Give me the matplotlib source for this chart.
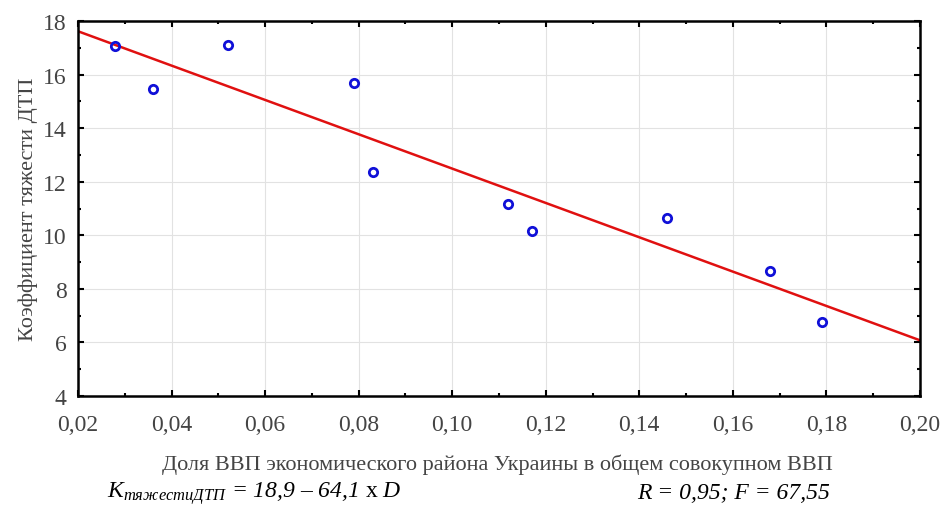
import matplotlib.pyplot as plt
from matplotlib.ticker import MultipleLocator, FuncFormatter
import numpy as np

plt.rcParams['font.family'] = ['Liberation Serif', 'DejaVu Serif']
plt.rcParams['mathtext.fontset'] = 'custom'
plt.rcParams['mathtext.rm'] = 'Liberation Serif'
plt.rcParams['mathtext.it'] = 'Liberation Serif:italic'

# доля ВВП района и коэффициент тяжести ДТП
gdp_share = [0.028, 0.036, 0.052, 0.079, 0.083, 0.112, 0.117, 0.146, 0.168, 0.179]
severity = [17.07, 15.45, 17.12, 15.67, 12.35, 11.17, 10.15, 10.65, 8.68, 6.77]
intercept, slope = 18.9, -64.1

fig = plt.figure(figsize=(9.45, 5.06), dpi=100)
ax = fig.add_axes([0.0825, 0.2154, 0.891, 0.7411])

ax.plot(gdp_share, severity, 'o', ms=6, mfc='none', mec='#1010d8', mew=2, zorder=3)
xs = np.array([0.02, 0.20])
ax.plot(xs, intercept + slope * xs, color='#e01010', lw=1.8, zorder=2)

ax.set_xlim(0.02, 0.20)
ax.set_ylim(4, 18)
ax.xaxis.set_major_locator(MultipleLocator(0.02))
ax.xaxis.set_minor_locator(MultipleLocator(0.01))
ax.yaxis.set_major_locator(MultipleLocator(2))
ax.yaxis.set_minor_locator(MultipleLocator(1))
ax.xaxis.set_major_formatter(FuncFormatter(lambda v, p: f'{v:.2f}'.replace('.', ',')))
ax.yaxis.set_major_formatter(FuncFormatter(lambda v, p: f'{v:.0f}'))
ax.tick_params(which='both', direction='in', top=True, right=True, color='black',
               labelsize=17, labelcolor='#444444')
ax.tick_params(which='major', length=4, width=1.5)
ax.tick_params(which='minor', length=2, width=1.5)
ax.tick_params(axis='x', pad=13)
ax.tick_params(axis='y', pad=8)
for s in ax.spines.values():
    s.set_linewidth(1.8)
ax.grid(True, which='major', color='#e2e2e2', lw=0.8)
ax.set_axisbelow(True)

ax.set_ylabel('Коэффициент тяжести ДТП', fontsize=16, color='#444444', labelpad=4)
fig.text(0.526, 0.081, 'Доля ВВП экономического района Украины в общем совокупном ВВП',
         ha='center', va='center', fontsize=16, color='#444444')
fig.text(0.113, 0.024, r'$K_{тяжестиДТП}$ = 18,9 – 64,1 $\mathrm{x}$ $D$', ha='left',
         va='center', fontsize=17, style='italic')
fig.text(0.878, 0.024, 'R = 0,95; F = 67,55', ha='right', va='center',
         fontsize=17, style='italic')

fig.savefig('out.png', dpi=100)
